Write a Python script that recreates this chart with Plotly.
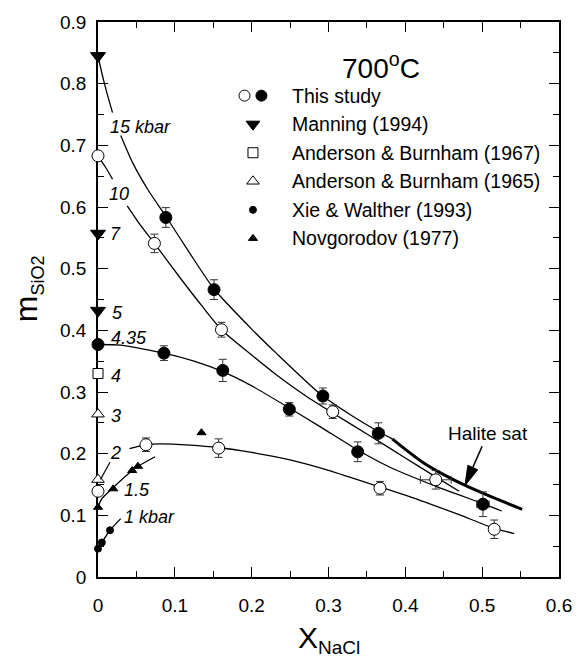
import plotly.graph_objects as go

# ---------------- data ----------------
# This study, open circles
open_x  = [0.0, 0.0734, 0.1607, 0.3055, 0.4396, 0.0, 0.0624, 0.157, 0.367, 0.5157]
open_y  = [0.683, 0.541, 0.401, 0.268, 0.1576, 0.139, 0.2145, 0.209, 0.144, 0.0774]
open_ey = [0, 0.015, 0.012, 0.011, 0.015, 0, 0.011, 0.015, 0.011, 0.015]
open_ex = [0, 0, 0, 0, 0.02, 0, 0, 0, 0, 0.005]
# This study, filled circles
fill_x  = [0.0, 0.0858, 0.1624, 0.249, 0.338, 0.501, 0.0883, 0.151, 0.2927, 0.365]
fill_y  = [0.377, 0.363, 0.335, 0.272, 0.203, 0.118, 0.583, 0.466, 0.2935, 0.233]
fill_ey = [0, 0.012, 0.018, 0.011, 0.016, 0.02, 0.016, 0.016, 0.013, 0.017]
fill_ex = [0, 0, 0, 0, 0, 0.008, 0, 0, 0, 0.007]
# Manning (1994)
man_x = [0.0, 0.0, 0.0]
man_y = [0.845, 0.557, 0.432]
# Anderson & Burnham (1967)
ab67_x = [0.0]
ab67_y = [0.330]
# Anderson & Burnham (1965)
ab65_x = [0.0, 0.0]
ab65_y = [0.264, 0.158]
# Xie & Walther (1993)
xie_x = [0.0, 0.005, 0.0156]
xie_y = [0.046, 0.056, 0.0758]
# Novgorodov (1977)
nov_x = [0.0, 0.0198, 0.0445, 0.052, 0.1347]
nov_y = [0.113, 0.143, 0.1726, 0.1795, 0.234]

# isobar curves, None = gap for label
c15_x = [0.0, 0.006, 0.012, 0.0189, None, 0.0296, 0.045, 0.065, 0.0883, 0.12, 0.151, 0.2, 0.232, 0.29, 0.33, 0.365, 0.383]
c15_y = [0.845, 0.812, 0.783, 0.753, None, 0.716, 0.672, 0.628, 0.585, 0.524, 0.467, 0.402, 0.363, 0.296, 0.262, 0.236, 0.224]
c10_x = [0.0, 0.01, 0.019, None, 0.038, 0.055, 0.0734, 0.11, 0.135, 0.1607, 0.2, 0.232, 0.27, 0.3055, 0.35, 0.4, 0.44, 0.47]
c10_y = [0.683, 0.664, 0.645, None, 0.602, 0.571, 0.541, 0.48, 0.44, 0.401, 0.36, 0.328, 0.294, 0.266, 0.232, 0.193, 0.162, 0.139]
c435_x = [0.0, 0.03, 0.0858, 0.125, 0.1624, 0.2, 0.249, 0.29, 0.338, 0.38, 0.44, 0.47, 0.501, 0.5255]
c435_y = [0.377, 0.376, 0.363, 0.35, 0.333, 0.31, 0.274, 0.243, 0.206, 0.178, 0.147, 0.133, 0.119, 0.107]
c2_x = [0.041, 0.0624, 0.08, 0.12, 0.157, 0.2, 0.25, 0.3, 0.367, 0.42, 0.47, 0.5157, 0.5417]
c2_y = [0.208, 0.2145, 0.216, 0.214, 0.21, 0.202, 0.19, 0.173, 0.146, 0.124, 0.101, 0.079, 0.0705]
c15b_x = [0.0, 0.005, 0.0198, 0.0445, 0.052, 0.0743]
c15b_y = [0.113, 0.127, 0.145, 0.1726, 0.1795, 0.195]
c1_x = [0.0, 0.005, 0.0156, 0.0296]
c1_y = [0.046, 0.056, 0.0758, 0.0946]
halite_x = [0.383, 0.40, 0.4234, 0.45, 0.4787, 0.51, 0.552]
halite_y = [0.224, 0.207, 0.1854, 0.166, 0.148, 0.131, 0.1097]

# pressure labels
lab_text = ["15 kbar", "10", "7", "5", "4.35", "4", "3", "2", "1.5", "1 kbar"]
lab_x = [0.0552, 0.0275, 0.0232, 0.0253, 0.0402, 0.0232, 0.0232, 0.0232, 0.0509, 0.067]
lab_y = [0.729, 0.6215, 0.557, 0.428, 0.3876, 0.326, 0.261, 0.2005, 0.1414, 0.0973]

legend_names = ["This study", "Manning (1994)", "Anderson & Burnham (1967)",
                "Anderson & Burnham (1965)", "Xie & Walther (1993)", "Novgorodov (1977)"]

x_ticks = [0, 0.1, 0.2, 0.3, 0.4, 0.5, 0.6]
y_ticks = [0, 0.1, 0.2, 0.3, 0.4, 0.5, 0.6, 0.7, 0.8, 0.9]

# ---------------- styling ----------------
FONT = "Arial, 'Liberation Sans', sans-serif"
BLACK = "black"
PX_X = 470 / 0.6   # pixels per x unit
PX_Y = 558 / 0.9   # pixels per y unit
fig = go.Figure()

def curve(x, y, w=1.3):
    fig.add_trace(go.Scatter(x=x, y=y, mode="lines", line=dict(color=BLACK, width=w, shape="spline", smoothing=0.6),
                             connectgaps=False, showlegend=False, hoverinfo="skip", cliponaxis=False))

for cx, cy in [(c15_x, c15_y), (c10_x, c10_y), (c435_x, c435_y), (c2_x, c2_y), (c15b_x, c15b_y), (c1_x, c1_y)]:
    curve(cx, cy)
curve(halite_x, halite_y, w=3)

# leader from label "2" to the open triangle
fig.add_shape(type="line", x0=0.0156, y0=0.186, x1=0.0032, y1=0.158, line=dict(color=BLACK, width=1.2))

errc = "#333333"
def pts(x, y, symbol, size, fill, ey=None, ex=None, lw=1):
    kw = {}
    if ey is not None:
        kw["error_y"] = dict(type="data", array=ey, visible=True, color=errc, thickness=1, width=4)
    if ex is not None:
        kw["error_x"] = dict(type="data", array=ex, visible=True, color=errc, thickness=1, width=4)
    fig.add_trace(go.Scatter(x=x, y=y, mode="markers",
                             marker=dict(symbol=symbol, size=size, color=fill, line=dict(color=BLACK, width=lw)),
                             showlegend=False, cliponaxis=False, **kw))

pts(open_x, open_y, "circle", 12, "white", open_ey, open_ex)
pts(fill_x, fill_y, "circle", 12, BLACK, fill_ey, fill_ex)
pts(man_x, man_y, "triangle-down", 13, BLACK)
pts(ab67_x, ab67_y, "square", 10, "white")
pts(ab65_x, ab65_y, "triangle-up", 11, "white")
pts(xie_x, xie_y, "circle", 7, BLACK)
pts(nov_x, nov_y, "triangle-up", 8, BLACK)

# ---------------- legend (drawn by hand) ----------------
LEG_X = 0.2017   # symbol column (data units)
LEG_DX_PAIR = 0.011
LEG_TX = 0.2495  # text start
LEG_Y0 = 0.7806
LEG_DY = 0.0463
rows = [LEG_Y0 - i * LEG_DY for i in range(6)]
leg_syms = [None, ("triangle-down", 12, BLACK), ("square", 10, "white"), ("triangle-up", 11, "white"),
            ("circle", 7, BLACK), ("triangle-up", 8, BLACK)]
fig.add_trace(go.Scatter(x=[LEG_X - LEG_DX_PAIR, LEG_X + LEG_DX_PAIR], y=[rows[0], rows[0]], mode="markers",
                         marker=dict(symbol="circle", size=11, color=["white", BLACK], line=dict(color=BLACK, width=1)),
                         showlegend=False, cliponaxis=False))
for i in range(1, 6):
    s, sz, c = leg_syms[i]
    fig.add_trace(go.Scatter(x=[LEG_X], y=[rows[i]], mode="markers",
                             marker=dict(symbol=s, size=sz, color=c, line=dict(color=BLACK, width=1)),
                             showlegend=False, cliponaxis=False))
for i, name in enumerate(legend_names):
    fig.add_annotation(x=LEG_TX, y=rows[i], text=name, showarrow=False, xanchor="left", yanchor="middle",
                       font=dict(family=FONT, size=19.5, color=BLACK))

# title-like text
fig.add_annotation(x=0.3685, y=0.829, text="700<sup>o</sup>C", showarrow=False, xanchor="center", yanchor="middle",
                   font=dict(family=FONT, size=28, color=BLACK))

# pressure labels
for t, x, y in zip(lab_text, lab_x, lab_y):
    fig.add_annotation(x=x, y=y, text="<i>%s</i>" % t, showarrow=False, xanchor="center", yanchor="middle",
                       font=dict(family=FONT, size=18, color=BLACK))

# Halite sat label with arrow (shaft + long filled head)
fig.add_annotation(x=0.507, y=0.232, text="Halite sat", showarrow=False, xanchor="center", yanchor="middle",
                   font=dict(family=FONT, size=19, color=BLACK))
ARROW_TAIL = (0.4999, 0.212)
ARROW_TIP = (0.4775, 0.148)
HEAD_LEN, HEAD_HALF = 20.0, 5.5
dxp = (ARROW_TIP[0] - ARROW_TAIL[0]) * PX_X
dyp = (ARROW_TIP[1] - ARROW_TAIL[1]) * PX_Y
L = (dxp ** 2 + dyp ** 2) ** 0.5
ux, uy = dxp / L, dyp / L
nx, ny = -uy, ux
bx = ARROW_TIP[0] - HEAD_LEN * ux / PX_X
by = ARROW_TIP[1] - HEAD_LEN * uy / PX_Y
c1 = (bx + HEAD_HALF * nx / PX_X, by + HEAD_HALF * ny / PX_Y)
c2 = (bx - HEAD_HALF * nx / PX_X, by - HEAD_HALF * ny / PX_Y)
fig.add_shape(type="line", x0=ARROW_TAIL[0], y0=ARROW_TAIL[1], x1=bx, y1=by, line=dict(color=BLACK, width=1.6))
fig.add_shape(type="path", path="M %f %f L %f %f L %f %f Z" % (ARROW_TIP[0], ARROW_TIP[1], c1[0], c1[1], c2[0], c2[1]),
              fillcolor=BLACK, line=dict(color=BLACK, width=1))

# axis titles
fig.add_annotation(xref="paper", yref="paper", x=-0.15, y=0.52, textangle=-90,
                   text="m<sub><span style='font-size:18px'>SiO2</span></sub>", showarrow=False,
                   xanchor="center", yanchor="middle", font=dict(family=FONT, size=32, color=BLACK))
fig.add_annotation(xref="paper", yref="paper", x=0.5, y=-0.113, text="X<sub><span style='font-size:19px'>NaCl</span></sub>",
                   showarrow=False, xanchor="center", yanchor="middle", font=dict(family=FONT, size=30, color=BLACK))

axis_common = dict(showgrid=False, zeroline=False, showline=True, linecolor=BLACK, linewidth=1.6,
                   ticks="inside", ticklen=10, tickwidth=1.4, tickcolor=BLACK, mirror="allticks",
                   tickfont=dict(family=FONT, size=19, color=BLACK), layer="below traces")
fig.update_xaxes(range=[0, 0.6], tickvals=x_ticks, ticktext=[("%g" % v) for v in x_ticks],
                 minor=dict(dtick=0.05, ticks="inside", ticklen=6, tickwidth=1.2, tickcolor=BLACK, showgrid=False),
                 ticklabelstandoff=10, **axis_common)
fig.update_yaxes(range=[0, 0.9], tickvals=y_ticks, ticktext=[("%g" % v) for v in y_ticks],
                 minor=dict(dtick=0.05, ticks="inside", ticklen=6, tickwidth=1.2, tickcolor=BLACK, showgrid=False),
                 ticklabelstandoff=6, **axis_common)

fig.update_layout(width=584, height=660, margin=dict(l=98, r=16, t=19, b=83),
                  paper_bgcolor="white", plot_bgcolor="white", showlegend=False,
                  font=dict(family=FONT, color=BLACK))

fig.write_html("out.html")
